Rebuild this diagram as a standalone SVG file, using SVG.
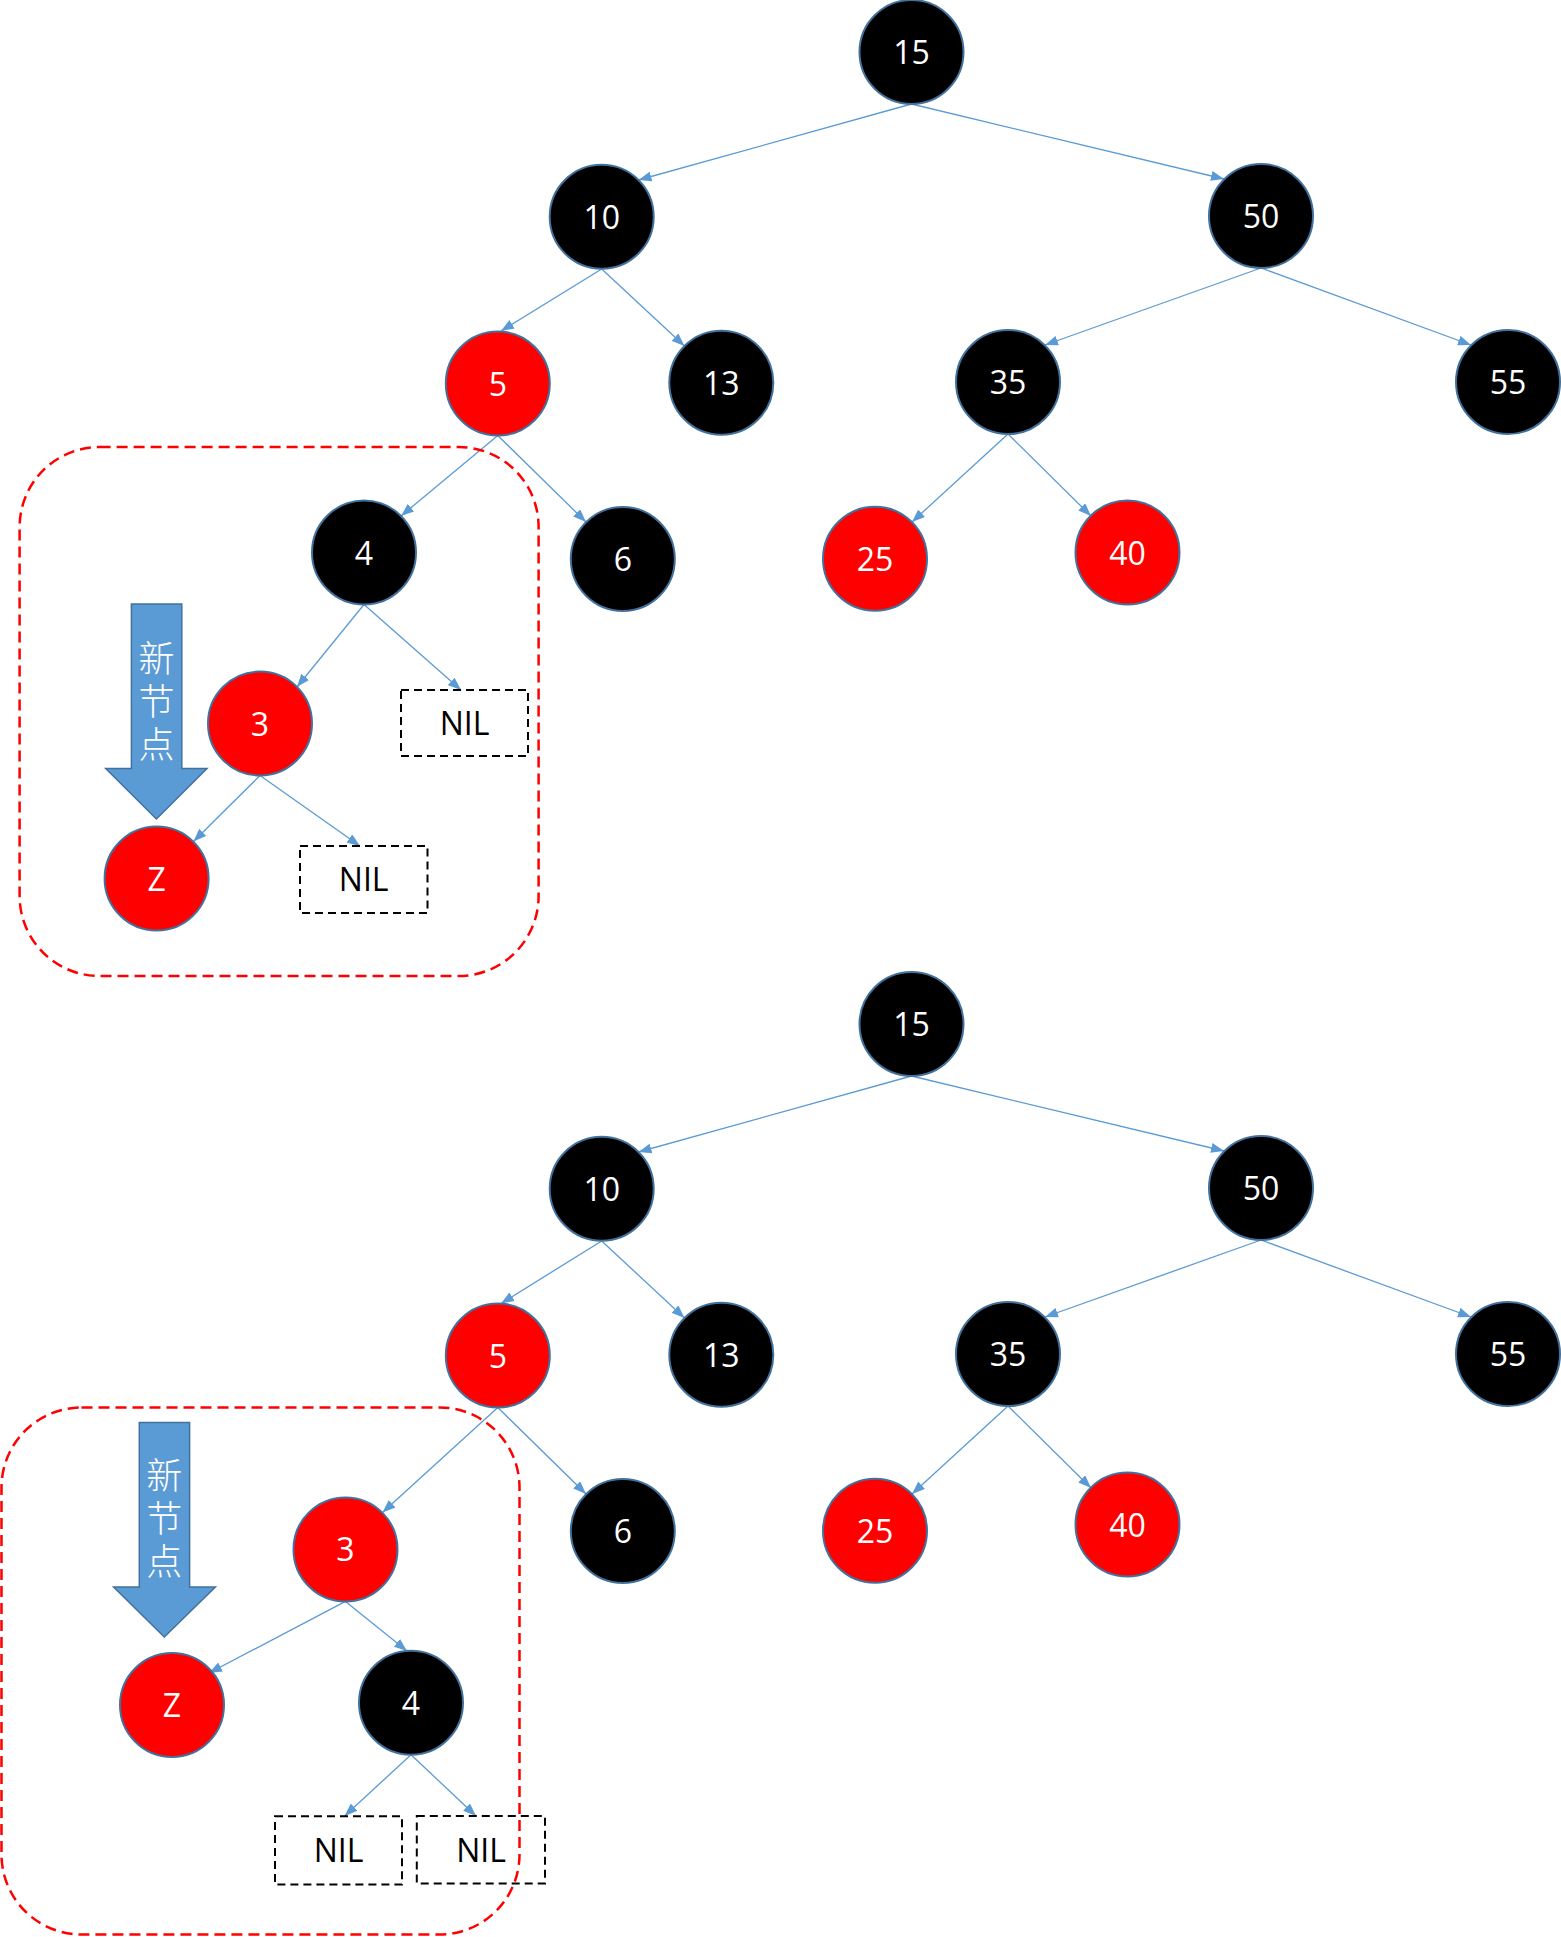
<svg xmlns="http://www.w3.org/2000/svg" width="1561" height="1937" viewBox="0 0 1561 1937">
  <defs>
    <marker id="ah" markerWidth="14" markerHeight="10" refX="13" refY="5" orient="auto" markerUnits="userSpaceOnUse">
      <path d="M0,0 L13,5 L0,10 z" fill="#5B9BD5"/>
    </marker>
    <style>
      .edge { stroke: #5B9BD5; stroke-width: 1.3; fill: none; marker-end: url(#ah); }
      .blk { fill: #000000; stroke: #41719C; stroke-width: 2; }
      .red { fill: #FF0000; stroke: #41719C; stroke-width: 2; }
      .lbl { font-family: "Open Sans", "Liberation Sans", sans-serif; font-size: 32px; fill: #FFFFFF; text-anchor: middle; }
      .nil { fill: #FFFFFF; stroke: #000000; stroke-width: 2; stroke-dasharray: 8 5; }
      .niltxt { font-family: "Open Sans", "Liberation Sans", sans-serif; font-size: 32px; fill: #000000; text-anchor: middle; }
      .frame { fill: none; stroke: #FF0000; stroke-width: 2.5; stroke-dasharray: 11 6; }
      .pointer { fill: #5B9BD5; stroke: #41719C; stroke-width: 1.5; }
      .cjk { font-family: "Noto Sans CJK SC", sans-serif; font-size: 36px; font-weight: 300; fill: #FFFFFF;
             writing-mode: vertical-rl; text-orientation: upright; letter-spacing: 7px; }
    </style>
  </defs>
  <rect width="1561" height="1937" fill="#FFFFFF"/>

  <!-- edges, upper tree then lower tree -->
  <g id="connectors">
    <line class="edge" x1="911.5" y1="104" x2="638.5" y2="180"/>
    <line class="edge" x1="911.5" y1="104" x2="1224" y2="179"/>
    <line class="edge" x1="601.7" y1="269" x2="501" y2="331"/>
    <line class="edge" x1="601.7" y1="269" x2="684.5" y2="346"/>
    <line class="edge" x1="1261" y1="268" x2="1045" y2="345"/>
    <line class="edge" x1="1261" y1="268" x2="1471" y2="345"/>
    <line class="edge" x1="497.8" y1="435.5" x2="401" y2="516"/>
    <line class="edge" x1="497.8" y1="435.5" x2="586" y2="522"/>
    <line class="edge" x1="1008" y1="434" x2="912" y2="522"/>
    <line class="edge" x1="1008" y1="434" x2="1091" y2="516"/>
    <line class="edge" x1="364" y1="604.5" x2="297" y2="687"/>
    <line class="edge" x1="364" y1="604.5" x2="461" y2="690"/>
    <line class="edge" x1="260" y1="775.5" x2="193.5" y2="841.5"/>
    <line class="edge" x1="260" y1="775.5" x2="360" y2="846"/>

    <line class="edge" x1="911.5" y1="1076" x2="638.5" y2="1152"/>
    <line class="edge" x1="911.5" y1="1076" x2="1224" y2="1151"/>
    <line class="edge" x1="601.7" y1="1241" x2="501" y2="1303.5"/>
    <line class="edge" x1="601.7" y1="1241" x2="684.5" y2="1318"/>
    <line class="edge" x1="1261" y1="1240" x2="1045" y2="1317"/>
    <line class="edge" x1="1261" y1="1240" x2="1471" y2="1317"/>
    <line class="edge" x1="497.8" y1="1407.5" x2="382.5" y2="1512.5"/>
    <line class="edge" x1="497.8" y1="1407.5" x2="586" y2="1494"/>
    <line class="edge" x1="1008" y1="1406" x2="912" y2="1494"/>
    <line class="edge" x1="1008" y1="1406" x2="1091" y2="1488"/>
    <line class="edge" x1="345.5" y1="1601.4" x2="209" y2="1673"/>
    <line class="edge" x1="345.5" y1="1601.4" x2="407" y2="1651"/>
    <line class="edge" x1="411" y1="1754.7" x2="344.6" y2="1816"/>
    <line class="edge" x1="411" y1="1754.7" x2="476" y2="1816"/>
  </g>

  <!-- upper tree nodes -->
  <g id="a15"><circle class="blk" cx="911.5" cy="52" r="52"/><text class="lbl" x="911.5" y="64">15</text></g>
  <g id="a10"><circle class="blk" cx="601.7" cy="216.7" r="52"/><text class="lbl" x="601.7" y="228.7">10</text></g>
  <g id="a50"><circle class="blk" cx="1261" cy="216" r="52"/><text class="lbl" x="1261" y="228">50</text></g>
  <g id="a5"><circle class="red" cx="497.8" cy="383.5" r="52"/><text class="lbl" x="497.8" y="395.5">5</text></g>
  <g id="a13"><circle class="blk" cx="721.3" cy="382.8" r="52"/><text class="lbl" x="721.3" y="394.8">13</text></g>
  <g id="a35"><circle class="blk" cx="1008" cy="382" r="52"/><text class="lbl" x="1008" y="394">35</text></g>
  <g id="a55"><circle class="blk" cx="1508" cy="382" r="52"/><text class="lbl" x="1508" y="394">55</text></g>
  <g id="a4"><circle class="blk" cx="364" cy="552.5" r="52"/><text class="lbl" x="364" y="564.5">4</text></g>
  <g id="a6"><circle class="blk" cx="622.8" cy="559" r="52"/><text class="lbl" x="622.8" y="571">6</text></g>
  <g id="a25"><circle class="red" cx="875" cy="558.8" r="52"/><text class="lbl" x="875" y="570.8">25</text></g>
  <g id="a40"><circle class="red" cx="1127.5" cy="552.5" r="52"/><text class="lbl" x="1127.5" y="564.5">40</text></g>
  <g id="a3"><circle class="red" cx="260" cy="723.5" r="52"/><text class="lbl" x="260" y="735.5">3</text></g>
  <g id="aZ"><circle class="red" cx="156.6" cy="878.5" r="52"/><text class="lbl" x="156.6" y="890.5">Z</text></g>
  <g id="aNil1"><rect class="nil" x="401" y="690" width="127" height="66"/><text class="niltxt" x="464.5" y="735">NIL</text></g>
  <g id="aNil2"><rect class="nil" x="300" y="846" width="127.5" height="67"/><text class="niltxt" x="363.7" y="891">NIL</text></g>

  <!-- lower tree nodes -->
  <g id="b15"><circle class="blk" cx="911.5" cy="1024" r="52"/><text class="lbl" x="911.5" y="1036">15</text></g>
  <g id="b10"><circle class="blk" cx="601.7" cy="1188.7" r="52"/><text class="lbl" x="601.7" y="1200.7">10</text></g>
  <g id="b50"><circle class="blk" cx="1261" cy="1188" r="52"/><text class="lbl" x="1261" y="1200">50</text></g>
  <g id="b5"><circle class="red" cx="497.8" cy="1355.5" r="52"/><text class="lbl" x="497.8" y="1367.5">5</text></g>
  <g id="b13"><circle class="blk" cx="721.3" cy="1354.8" r="52"/><text class="lbl" x="721.3" y="1366.8">13</text></g>
  <g id="b35"><circle class="blk" cx="1008" cy="1354" r="52"/><text class="lbl" x="1008" y="1366">35</text></g>
  <g id="b55"><circle class="blk" cx="1508" cy="1354" r="52"/><text class="lbl" x="1508" y="1366">55</text></g>
  <g id="b6"><circle class="blk" cx="622.8" cy="1531" r="52"/><text class="lbl" x="622.8" y="1543">6</text></g>
  <g id="b25"><circle class="red" cx="875" cy="1530.8" r="52"/><text class="lbl" x="875" y="1542.8">25</text></g>
  <g id="b40"><circle class="red" cx="1127.5" cy="1524.5" r="52"/><text class="lbl" x="1127.5" y="1536.5">40</text></g>
  <g id="b3"><circle class="red" cx="345.5" cy="1549.4" r="52"/><text class="lbl" x="345.5" y="1561.4">3</text></g>
  <g id="bZ"><circle class="red" cx="172" cy="1705" r="52"/><text class="lbl" x="172" y="1717">Z</text></g>
  <g id="b4"><circle class="blk" cx="411" cy="1702.7" r="52"/><text class="lbl" x="411" y="1714.7">4</text></g>
  <g id="bNilA"><rect class="nil" x="275" y="1816.2" width="127" height="68.4"/><text class="niltxt" x="338.5" y="1862">NIL</text></g>
  <g id="bNilB"><rect class="nil" x="416.8" y="1816" width="128.2" height="67.5"/><text class="niltxt" x="481" y="1862">NIL</text></g>

  <!-- "new node" pointers with vertical caption -->
  <g id="newNodeTop">
    <path class="pointer" d="M131.4,604 H181.8 V768.6 H207 L156.4,819 L105.7,768.6 H131.4 Z"/>
    <text class="cjk" x="156.4" y="640.6">新节点</text>
  </g>
  <g id="newNodeBottom">
    <path class="pointer" d="M139.3,1422.4 H189.6 V1587 H215.4 L164.3,1637 L113.6,1587 H139.3 Z"/>
    <text class="cjk" x="164.3" y="1457.5">新节点</text>
  </g>

  <!-- highlighted subtrees -->
  <rect id="frameTop" class="frame" x="19.6" y="447" width="519" height="529" rx="80" ry="80"/>
  <rect id="frameBottom" class="frame" x="1.5" y="1407.5" width="518" height="527" rx="80" ry="80"/>
</svg>
